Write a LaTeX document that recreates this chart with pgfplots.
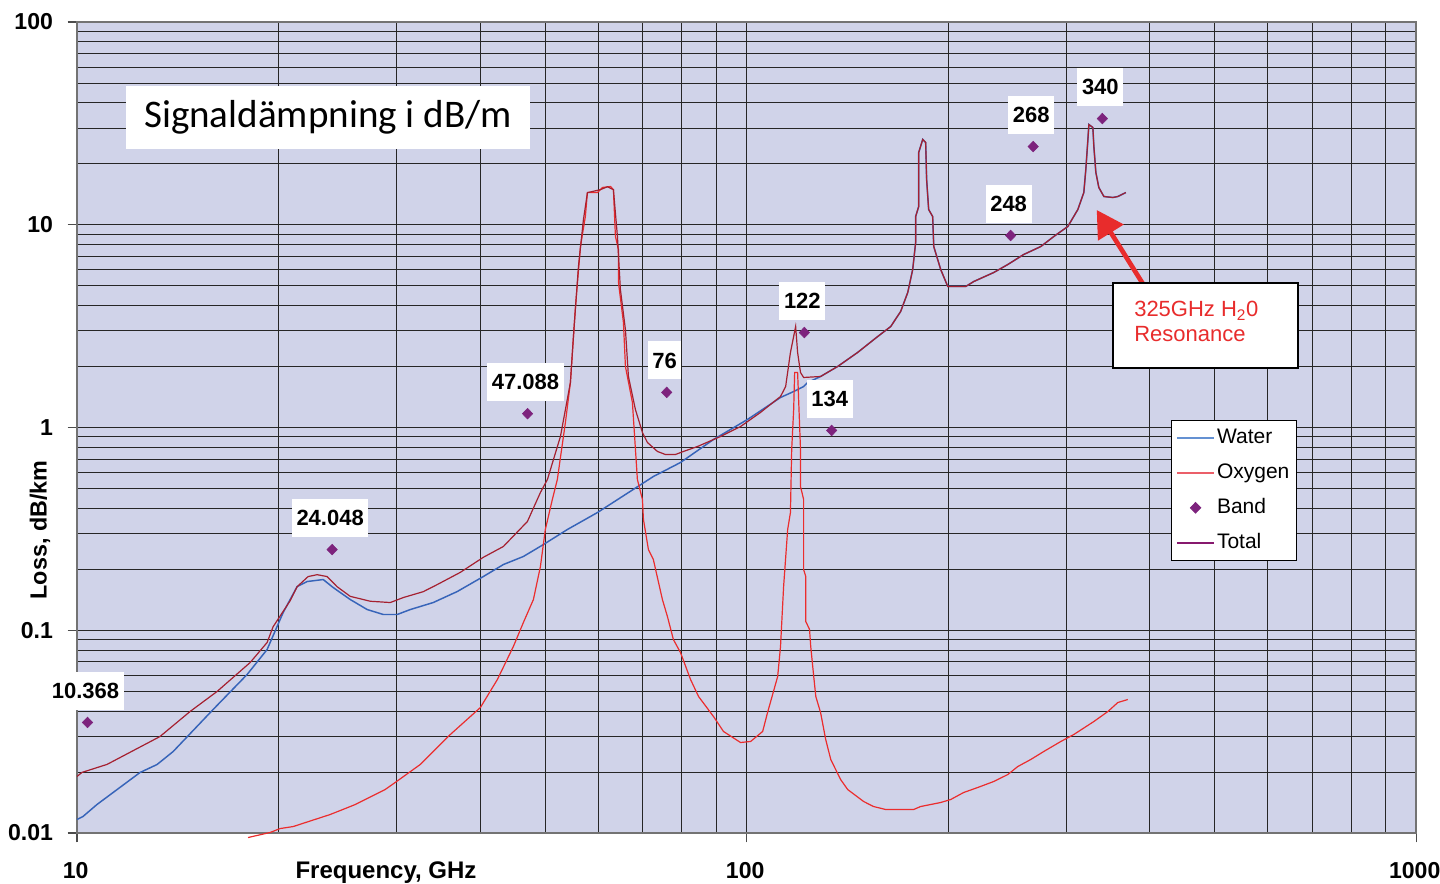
\documentclass[border=0pt]{standalone}
\usepackage{pgfplots}
\pgfplotsset{compat=1.18}
\usetikzlibrary{arrows.meta}
\usepackage{fontspec}
\setmainfont{Liberation Sans}
\newfontfamily\titlefont{Carlito}
\definecolor{bg}{RGB}{208,211,233}
\definecolor{waterc}{RGB}{55,100,185}
\definecolor{oxyc}{RGB}{235,45,45}
\definecolor{totalc}{RGB}{165,32,48}
\definecolor{bandc}{RGB}{125,35,125}
\definecolor{lwater}{RGB}{100,145,210}
\definecolor{loxy}{RGB}{235,95,105}
\definecolor{ltotal}{RGB}{135,25,110}
\definecolor{arrowred}{RGB}{232,44,44}
\begin{document}
\begin{tikzpicture}
\useasboundingbox (-57.75pt,-37.5pt) rectangle (1022.25pt,624.75pt);
\begin{axis}[
  at={(0pt,0pt)}, anchor=south west,
  scale only axis, width=1004.25pt, height=608.25pt,
  xmode=log, ymode=log, xmin=10, xmax=1000, ymin=0.01, ymax=100,
  axis background/.style={fill=bg},
  xmajorgrids, xminorgrids, ymajorgrids, yminorgrids,
  major grid style={black!85, line width=0.7pt},
  minor grid style={black!85, line width=0.6pt},
  tick align=outside, major tick length=7pt, minor tick length=0pt,
  tick style={black!70, line width=0.8pt},
  xtick pos=bottom, ytick pos=left,
  xtick={10,100,1000}, xticklabels={10,100,1000},
  ytick={0.01,0.1,1,10,100}, yticklabels={0.01,0.1,1,10,100},
  ticklabel style={font=\fontsize{17.3pt}{19pt}\selectfont\bfseries},
  xticklabel style={anchor=base, yshift=-27pt, xshift=-1pt},
  yticklabel style={anchor=east, xshift=-7.5pt},
  axis line style={black!55, line width=1pt},
  clip=false,
  legend cell align=left,
  legend style={at={(0.817,0.509)}, anchor=north west, draw=black, line width=0.6pt, fill=white,
    font=\fontsize{15.75pt}{18pt}\selectfont, row sep=8.2pt, inner xsep=3.5pt, inner ysep=4pt,
    nodes={inner sep=1.5pt, text height=11.5pt, text depth=3.5pt}},
  legend image code/.code={\draw[mark repeat=2,mark phase=2,#1] plot coordinates {(0pt,0pt) (14pt,0pt) (28pt,0pt)};},
]
% Water
\addplot[waterc, line width=1.1pt, forget plot] coordinates {
(10,0.01166) (10.21,0.01207) (10.71,0.01382) (12.42,0.01988) (13.17,0.02177) (13.92,0.02523)
(15.97,0.04066) (17.95,0.06049) (19.23,0.08035) (20.32,0.1223) (21.32,0.1643) (22.06,0.1739)
(23.32,0.1779) (24.13,0.1625) (25.59,0.1418) (27.13,0.1265) (28.67,0.1196) (30.08,0.1196)
(31.46,0.1265) (34.05,0.1370) (36.99,0.1553) (40.45,0.1841) (43.34,0.2110) (46.42,0.2311)
(49.73,0.2647) (54.01,0.3141) (59.89,0.3808) (72.59,0.5732) (79.70,0.6720) (89.26,0.8727)
(100.3,1.095) (112.4,1.406) (117.6,1.505) (121.7,1.593) (123.4,1.667) (129.0,1.785)
(136.8,2.000) (146.5,2.344) (157.0,2.81) (164.2,3.149) (169.9,3.734) (174.1,4.634) (177.1,6.016)
(178.9,8.176) (178.9,10.98) (180.8,12.30) (180.8,22.71) (183.3,26.34) (185.2,25.45) (185.8,16.72)
(187.1,11.89) (189.7,10.98) (190.4,7.811) (195.0,6.016) (199.8,4.961) (212.5,4.961) (218.5,5.25)
(234.0,5.814) (245.6,6.367) (259.4,7.133) (275.1,7.811) (287.7,8.751) (301.9,9.803) (312.5,11.89)
(319.0,14.42) (321.2,18.74) (323.5,26.34) (324.6,31.22) (329.1,30.17) (330.2,24.32) (332.5,18.10)
(335.9,15.27) (341.8,13.78) (352.5,13.63) (358.6,13.78) (368.6,14.42)
};
% Oxygen
\addplot[oxyc, line width=0.9pt, forget plot] coordinates {
(18.01,0.0095) (19.43,0.01006) (20.11,0.01052) (21.03,0.01076) (23.89,0.01234) (26.04,0.01382)
(28.86,0.01639) (29.87,0.01775) (32.56,0.02177) (36.11,0.03061) (40.04,0.04159) (42.45,0.05716)
(44.85,0.08318) (46.42,0.1092) (48.05,0.1418) (49.22,0.2062) (50.06,0.3141) (51.28,0.4415)
(52.17,0.554) (53.64,1.058) (54.57,1.667) (55.53,3.953) (56.49,7.811) (57.45,10.98) (57.86,14.42)
(59.89,14.42) (60.93,15.27) (62.62,15.44) (63.27,14.92) (63.71,8.751) (64.38,7.549) (64.38,5.19)
(65.49,3.295) (65.94,2.0) (67.54,1.328) (68.71,0.554) (69.91,0.4415) (70.15,0.3518) (71.37,0.2501)
(72.59,0.2234) (74.88,0.1418) (76.19,0.1169) (77.77,0.09003) (79.70,0.07766) (82.49,0.05716)
(84.79,0.04713) (89.26,0.03754) (92.39,0.03168) (97.96,0.02795) (101.4,0.02827) (105.7,0.03168)
(107.5,0.03928) (111.3,0.05913) (112.4,0.08318) (113.6,0.1643) (115.2,0.3141) (116.3,0.3808)
(116.8,0.7791) (117.6,1.227) (118.0,1.867) (119.2,1.867) (120.4,0.7791) (120.4,0.5117)
(121.7,0.4415) (121.7,0.1993) (122.6,0.1841) (122.6,0.1105) (124.2,0.1009) (124.7,0.08318)
(126.0,0.05913) (126.9,0.04713) (129.0,0.03928) (131.3,0.02891) (133.6,0.02305) (138.2,0.01836)
(141.6,0.01639) (149.6,0.0143) (154.8,0.01351) (161.3,0.01306) (177.7,0.01306) (182.0,0.01351)
(195.0,0.01414) (201.8,0.01463) (211.0,0.01584) (221.5,0.01677) (234.0,0.01795) (245.6,0.01943)
(254.2,0.02128) (265.8,0.02305) (277.9,0.02523) (294.7,0.02827) (308.2,0.03061) (330.2,0.03548)
(346.5,0.03975) (358.6,0.04402) (371.1,0.04554)
};
% Total
\addplot[totalc, line width=0.9pt, forget plot] coordinates {
(10,0.0190) (10.17,0.0199) (11.09,0.0218) (13.30,0.0299) (14.76,0.0398) (16.19,0.0499)
(18.14,0.0693) (19.23,0.0870) (19.63,0.104) (20.82,0.140) (21.32,0.164) (22.14,0.184)
(22.84,0.188) (23.64,0.184) (24.46,0.164) (25.59,0.147) (27.42,0.139) (29.37,0.137) (30.72,0.145)
(32.90,0.155) (34.52,0.168) (37.37,0.193) (40.45,0.229) (43.34,0.259) (47.07,0.344) (49.22,0.478)
(50.42,0.554) (52.73,0.903) (54.57,1.667) (55.14,2.81) (56.10,6.23) (57.07,10.6) (57.86,14.4)
(60.51,14.9) (61.98,15.4) (63.27,14.9) (64.15,8.75) (64.81,4.79) (65.94,3.04) (66.62,1.785)
(68.24,1.227) (69.91,0.945) (71.12,0.844) (73.61,0.762) (75.67,0.736) (78.32,0.736) (80.52,0.762)
(84.49,0.806) (91.44,0.903) (97.96,1.011) (104.9,1.186) (112.4,1.422) (114.4,1.593) (116.3,2.344)
(118.4,3.149) (119.2,2.344) (120.4,1.867) (121.7,1.765) (129.0,1.785) (136.8,2.000) (146.5,2.344)
(157.0,2.81) (164.2,3.149) (169.9,3.734) (174.1,4.634) (177.1,6.016) (178.9,8.176) (178.9,10.98)
(180.8,12.30) (180.8,22.71) (183.3,26.34) (185.2,25.45) (185.8,16.72) (187.1,11.89) (189.7,10.98)
(190.4,7.811) (195.0,6.016) (199.8,4.961) (212.5,4.961) (218.5,5.25) (234.0,5.814) (245.6,6.367)
(259.4,7.133) (275.1,7.811) (287.7,8.751) (301.9,9.803) (312.5,11.89) (319.0,14.42) (321.2,18.74)
(323.5,26.34) (324.6,31.22) (329.1,30.17) (330.2,24.32) (332.5,18.10) (335.9,15.27) (341.8,13.78)
(352.5,13.63) (358.6,13.78) (368.6,14.42)
};
% Band
\addplot[only marks, mark=diamond*, mark size=4pt, mark options={xscale=1.3}, color=bandc, forget plot,
  point meta=explicit symbolic, nodes near coords,
  every node near coord/.append style={anchor=south, yshift=9.5pt, xshift=-1.5pt, fill=white,
    text=black, inner xsep=3.4pt, inner ysep=0pt, minimum height=28.5pt,
    font=\fontsize{16.5pt}{19pt}\selectfont\bfseries}]
coordinates {
(10.368,0.0351) [10.368] (24.048,0.25) [24.048] (47.088,1.17) [47.088] (76,1.49) [76]
(122,2.94) [122] (134,0.967) [134] (248,8.85) [248] (268,24.3) [268] (340,33.4) [340]
};
\addlegendimage{lwater, line width=1pt}
\addlegendentry{Water}
\addlegendimage{loxy, line width=1pt}
\addlegendentry{Oxygen}
\addlegendimage{only marks, mark=diamond*, mark size=4pt, mark options={xscale=1.3}, color=bandc}
\addlegendentry{Band}
\addlegendimage{ltotal, line width=1.2pt}
\addlegendentry{Total}
\end{axis}
% annotations
\node[fill=white, minimum width=303pt, minimum height=47.25pt, inner sep=0pt]
  at (188.25pt,536.6pt) {\titlefont\fontsize{29.3pt}{34pt}\selectfont Signaldämpning i dB/m};
\draw[arrowred, line width=3.5pt, -{Triangle[length=20pt,width=22pt]}] (799.5pt,411.75pt) -- (764.8pt,467.25pt);
\draw[black, line width=2pt, fill=white] (777pt,348.75pt) rectangle (915.75pt,412.5pt);
\node[anchor=west, align=left, text=arrowred, inner sep=0pt,
  font=\fontsize{16.5pt}{18.75pt}\selectfont] at (792.75pt,383.6pt) {325GHz H\textsubscript{2}0\\Resonance};
\node[rotate=90, font=\fontsize{17.5pt}{20pt}\selectfont\bfseries] at (-27.75pt,227.25pt) {Loss, dB/km};
\node[anchor=base, font=\fontsize{18pt}{20pt}\selectfont\bfseries] at (231.75pt,-33.75pt) {Frequency, GHz};
\end{tikzpicture}
\end{document}
